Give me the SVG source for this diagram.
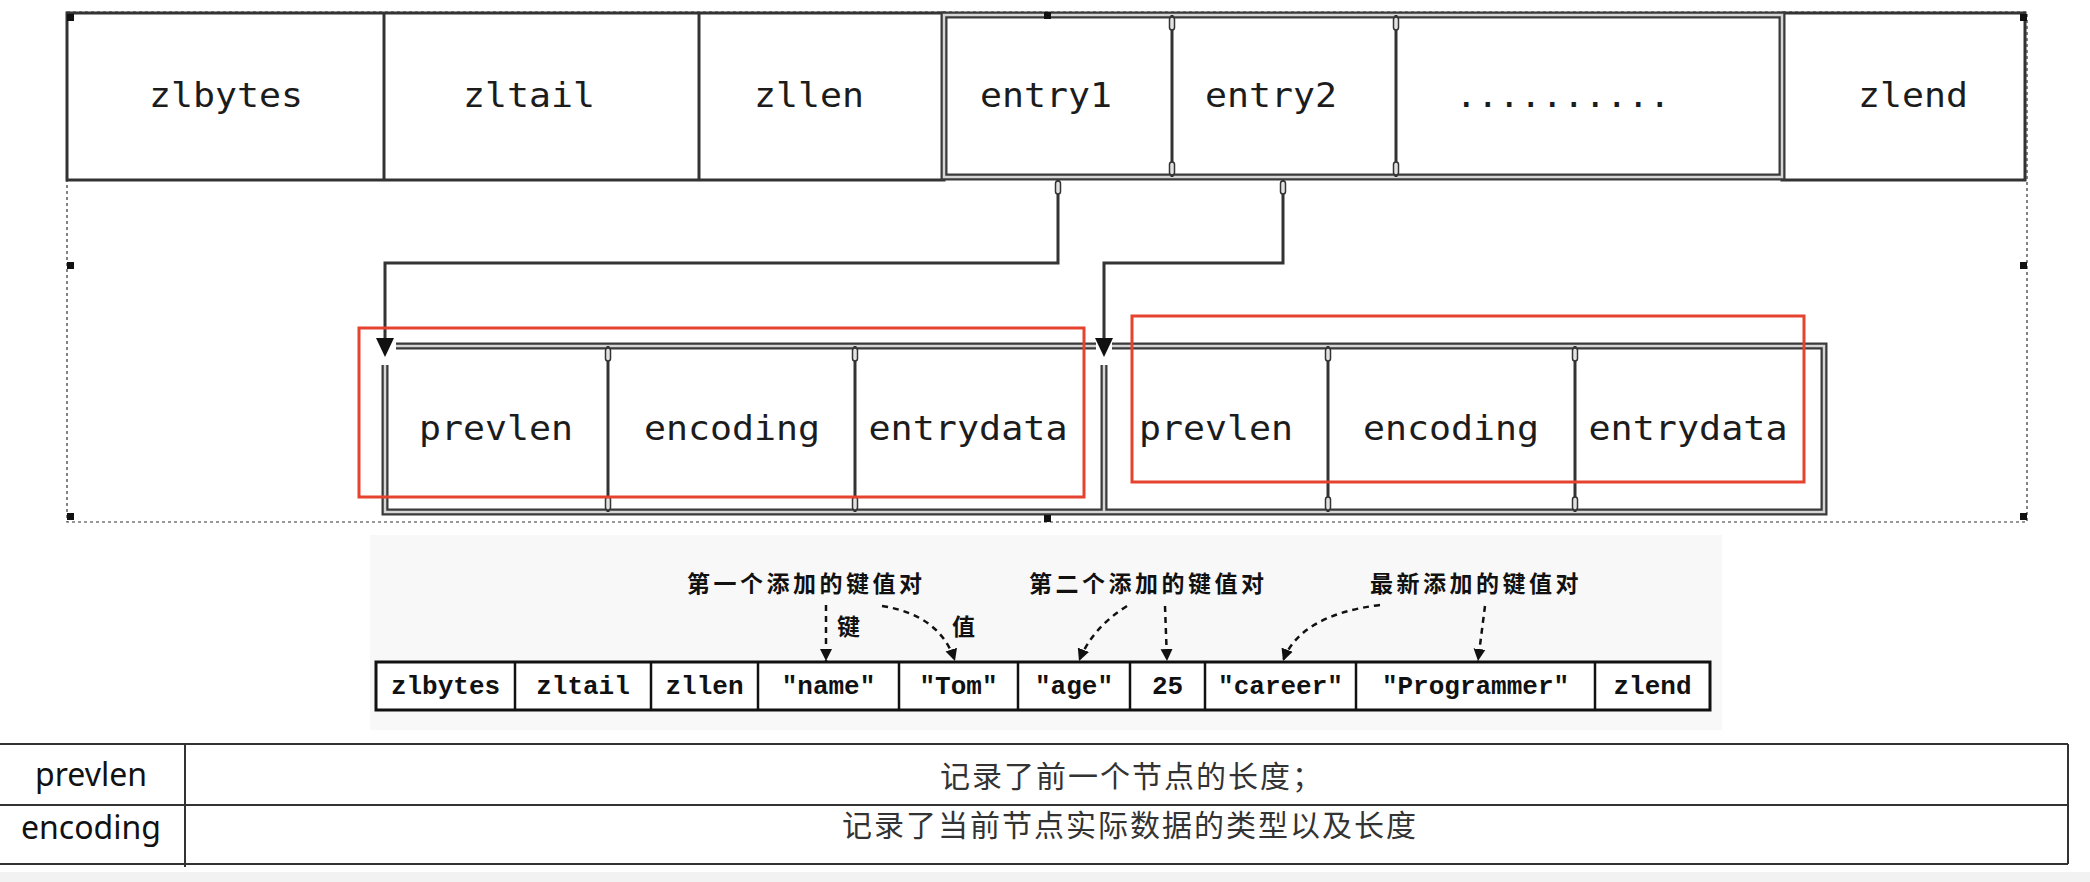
<svg xmlns="http://www.w3.org/2000/svg" width="2090" height="882" viewBox="0 0 2090 882">
<style>
.mono{font-family:"DejaVu Sans Mono",monospace;font-size:34px;fill:#1c1c1c;text-anchor:middle}
.cour{font-family:"Liberation Mono","Courier New",monospace;font-size:26px;font-weight:bold;fill:#111;text-anchor:middle}
.cjkb{font-family:"Noto Sans CJK SC",sans-serif;font-size:23px;font-weight:bold;fill:#111;letter-spacing:3.5px}
.tbl{font-family:"Noto Sans",sans-serif;font-size:32px;fill:#111;text-anchor:middle}
.cjk{font-family:"Noto Sans CJK SC",sans-serif;font-size:30px;fill:#333;letter-spacing:2px}
.single{fill:none;stroke:#333;stroke-width:3}
.dblo{fill:none;stroke:#3a3a3a;stroke-width:7}
.dbli{fill:none;stroke:#d6d6d6;stroke-width:2.5}
.tick{fill:#e2e2e2;stroke:#333;stroke-width:1.5}
.conn{fill:none;stroke:#333;stroke-width:3}
.red{fill:none;stroke:#e5432f;stroke-width:3}
.sel{fill:none;stroke:#333;stroke-width:1.2;stroke-dasharray:3 3}
.darr{fill:none;stroke:#111;stroke-width:2.5;stroke-dasharray:6 5}
.cell{fill:#fff;stroke:#111;stroke-width:3}
.tline{fill:none;stroke:#333;stroke-width:2}
.handle{fill:#111}
</style>
<defs>
<marker id="ah" markerWidth="12" markerHeight="14" refX="12" refY="6" orient="auto" markerUnits="userSpaceOnUse" viewBox="0 0 12 12">
<path d="M0,0 L12,6 L0,12 Z" fill="#111"/>
</marker>
</defs>
<rect width="2090" height="882" fill="#fff"/>

<!-- selection frame -->
<rect class="sel" x="67" y="12" width="1960" height="510"/>

<!-- top ziplist row -->
<g id="zl-head">
<rect class="single" x="67" y="13" width="877" height="167"/>
<line class="single" x1="384" y1="13" x2="384" y2="180"/>
<line class="single" x1="699" y1="13" x2="699" y2="180"/>
<text class="mono" x="226" y="107" textLength="154" lengthAdjust="spacingAndGlyphs">zlbytes</text>
<text class="mono" x="529" y="107" textLength="132" lengthAdjust="spacingAndGlyphs">zltail</text>
<text class="mono" x="809" y="107" textLength="110" lengthAdjust="spacingAndGlyphs">zllen</text>
</g>
<g id="zl-end">
<rect class="single" x="1782" y="13" width="243" height="167"/>
<text class="mono" x="1913" y="107" textLength="110" lengthAdjust="spacingAndGlyphs">zlend</text>
</g>
<g id="zl-entries">
<rect class="dblo" x="944" y="15" width="838" height="162"/>
<rect class="dbli" x="944" y="15" width="838" height="162"/>
<line class="single" x1="1172" y1="15" x2="1172" y2="177" stroke-width="2"/>
<line class="single" x1="1396" y1="15" x2="1396" y2="177" stroke-width="2"/>
<rect class="tick" x="1169.5" y="17" width="5" height="13" rx="2.5"/>
<rect class="tick" x="1169.5" y="162" width="5" height="13" rx="2.5"/>
<rect class="tick" x="1393.5" y="17" width="5" height="13" rx="2.5"/>
<rect class="tick" x="1393.5" y="162" width="5" height="13" rx="2.5"/>
<text class="mono" x="1046" y="107" textLength="132" lengthAdjust="spacingAndGlyphs">entry1</text>
<text class="mono" x="1271" y="107" textLength="132" lengthAdjust="spacingAndGlyphs">entry2</text>
<text class="mono" x="1563" y="107" textLength="215" lengthAdjust="spacingAndGlyphs">..........</text>
</g>

<!-- connectors -->
<g id="connectors">
<path class="conn" d="M1058,180 V263 H385 V338"/>
<path class="conn" d="M1283,180 V263 H1104 V338"/>
<rect class="tick" x="1055.5" y="181" width="5" height="13" rx="2.5"/>
<rect class="tick" x="1280.5" y="181" width="5" height="13" rx="2.5"/>
<path d="M376,338 L394,338 L385,357 Z" fill="#111"/>
<path d="M1095,338 L1113,338 L1104,357 Z" fill="#111"/>
</g>

<!-- entry detail boxes -->
<g id="entry-boxes">
<path class="dblo" d="M396,346 H1096 M1112,346 H1824 V512 H385 V365 M1104,365 V512"/>
<path class="dbli" d="M396,346 H1096 M1112,346 H1824 V512 H385 V365 M1104,365 V512"/>
<line class="single" x1="608" y1="346" x2="608" y2="512" stroke-width="2"/>
<line class="single" x1="855" y1="346" x2="855" y2="512" stroke-width="2"/>
<line class="single" x1="1328" y1="346" x2="1328" y2="512" stroke-width="2"/>
<line class="single" x1="1575" y1="346" x2="1575" y2="512" stroke-width="2"/>
<rect class="tick" x="605.5" y="348" width="5" height="13" rx="2.5"/>
<rect class="tick" x="605.5" y="497" width="5" height="13" rx="2.5"/>
<rect class="tick" x="852.5" y="348" width="5" height="13" rx="2.5"/>
<rect class="tick" x="852.5" y="497" width="5" height="13" rx="2.5"/>
<rect class="tick" x="1325.5" y="348" width="5" height="13" rx="2.5"/>
<rect class="tick" x="1325.5" y="497" width="5" height="13" rx="2.5"/>
<rect class="tick" x="1572.5" y="348" width="5" height="13" rx="2.5"/>
<rect class="tick" x="1572.5" y="497" width="5" height="13" rx="2.5"/>
<text class="mono" x="496" y="440" textLength="154" lengthAdjust="spacingAndGlyphs">prevlen</text>
<text class="mono" x="732" y="440" textLength="176" lengthAdjust="spacingAndGlyphs">encoding</text>
<text class="mono" x="968" y="440" textLength="199" lengthAdjust="spacingAndGlyphs">entrydata</text>
<text class="mono" x="1216" y="440" textLength="154" lengthAdjust="spacingAndGlyphs">prevlen</text>
<text class="mono" x="1451" y="440" textLength="176" lengthAdjust="spacingAndGlyphs">encoding</text>
<text class="mono" x="1688" y="440" textLength="199" lengthAdjust="spacingAndGlyphs">entrydata</text>
</g>

<!-- red highlights -->
<g id="highlights">
<rect class="red" x="359" y="328" width="725" height="169"/>
<rect class="red" x="1132" y="316" width="672" height="166"/>
</g>

<!-- selection handles -->
<g id="handles">
<rect class="handle" x="67" y="14" width="7" height="7"/>
<rect class="handle" x="1044" y="12" width="7" height="7"/>
<rect class="handle" x="2020" y="14" width="7" height="7"/>
<rect class="handle" x="67" y="262" width="7" height="7"/>
<rect class="handle" x="2020" y="262" width="7" height="7"/>
<rect class="handle" x="67" y="513" width="7" height="7"/>
<rect class="handle" x="1044" y="515" width="7" height="7"/>
<rect class="handle" x="2020" y="513" width="7" height="7"/>
</g>

<!-- example ziplist image -->
<g id="example">
<rect x="370" y="535" width="1352" height="195" fill="#f8f8f8"/>
<rect class="cell" x="376" y="662" width="1334" height="48"/>
<g stroke="#111" stroke-width="2.5">
<line x1="515" y1="662" x2="515" y2="710"/>
<line x1="651" y1="662" x2="651" y2="710"/>
<line x1="758" y1="662" x2="758" y2="710"/>
<line x1="899" y1="662" x2="899" y2="710"/>
<line x1="1018" y1="662" x2="1018" y2="710"/>
<line x1="1130" y1="662" x2="1130" y2="710"/>
<line x1="1205" y1="662" x2="1205" y2="710"/>
<line x1="1356" y1="662" x2="1356" y2="710"/>
<line x1="1595" y1="662" x2="1595" y2="710"/>
</g>
<text class="cour" x="445.5" y="694">zlbytes</text>
<text class="cour" x="583" y="694">zltail</text>
<text class="cour" x="704.5" y="694">zllen</text>
<text class="cour" x="828.5" y="694">"name"</text>
<text class="cour" x="958.5" y="694">"Tom"</text>
<text class="cour" x="1074" y="694">"age"</text>
<text class="cour" x="1167.5" y="694">25</text>
<text class="cour" x="1280.5" y="694">"career"</text>
<text class="cour" x="1475.5" y="694">"Programmer"</text>
<text class="cour" x="1652.5" y="694">zlend</text>
<text class="cjkb" x="687" y="592">第一个添加的键值对</text>
<text class="cjkb" x="1029" y="592">第二个添加的键值对</text>
<text class="cjkb" x="1370" y="592">最新添加的键值对</text>
<text class="cjkb" x="837" y="635">键</text>
<text class="cjkb" x="952" y="635">值</text>
<g id="example-arrows">
<path class="darr" d="M826,605 L826,661" marker-end="url(#ah)"/>
<path class="darr" d="M882,606 Q940,615 955,661" marker-end="url(#ah)"/>
<path class="darr" d="M1127,606 Q1092,628 1079,661" marker-end="url(#ah)"/>
<path class="darr" d="M1165,606 L1167,661" marker-end="url(#ah)"/>
<path class="darr" d="M1380,605 Q1300,615 1283,661" marker-end="url(#ah)"/>
<path class="darr" d="M1485,606 L1478,661" marker-end="url(#ah)"/>
</g>
</g>

<!-- table -->
<g id="table">
<rect x="0" y="872" width="2090" height="10" fill="#f2f2f2"/>
<line class="tline" x1="0" y1="744" x2="2068" y2="744"/>
<line class="tline" x1="0" y1="805" x2="2068" y2="805"/>
<line class="tline" x1="0" y1="864" x2="2068" y2="864"/>
<line class="tline" x1="185" y1="744" x2="185" y2="867"/>
<line class="tline" x1="2068" y1="744" x2="2068" y2="864"/>
<text class="tbl" x="91" y="786">prevlen</text>
<text class="tbl" x="91" y="839">encoding</text>
<text class="cjk" x="940" y="787">记录了前一个节点的长度；</text>
<text class="cjk" x="842" y="836">记录了当前节点实际数据的类型以及长度</text>
</g>
</svg>
